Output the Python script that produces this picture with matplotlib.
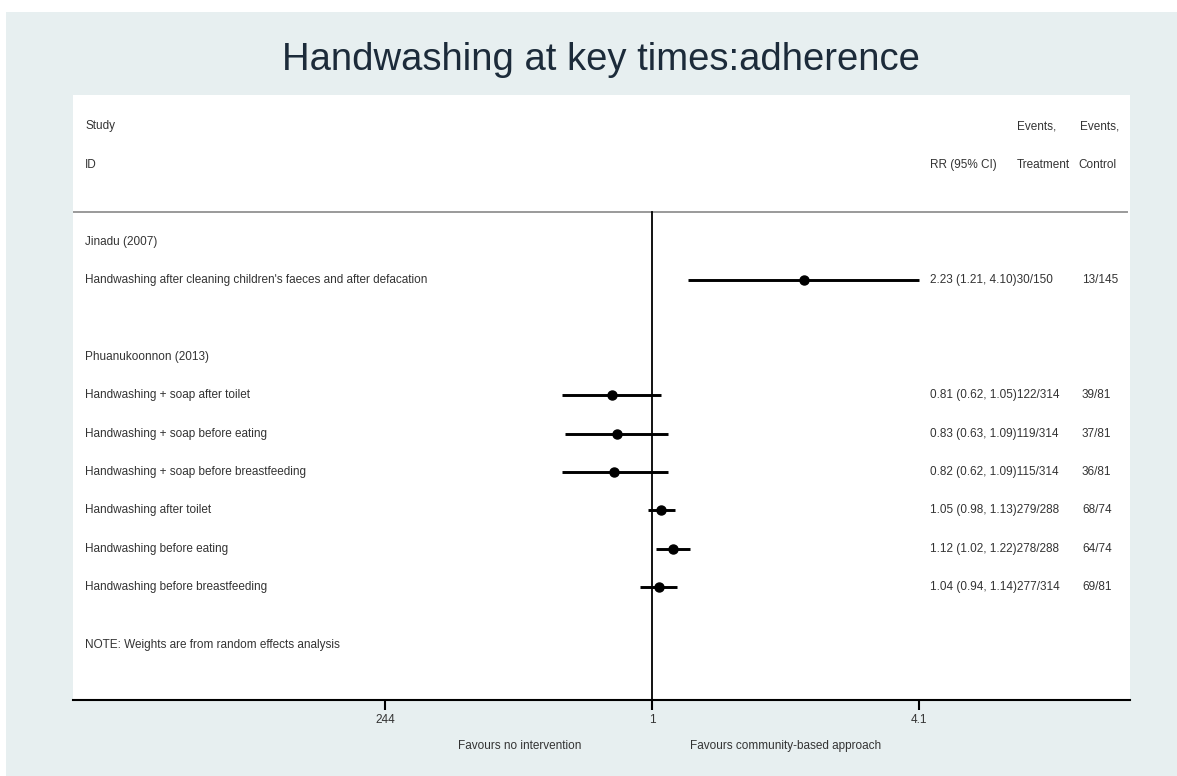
import matplotlib
matplotlib.use("Agg")
import matplotlib.pyplot as plt
from matplotlib.patches import Rectangle
from matplotlib.transforms import blended_transform_factory


# Data
study_labels = [
    "Handwashing after cleaning children's faeces and after defacation",
    "Handwashing + soap after toilet",
    "Handwashing + soap before eating",
    "Handwashing + soap before breastfeeding",
    "Handwashing after toilet",
    "Handwashing before eating",
    "Handwashing before breastfeeding",
]
study_rows = [1, 4, 5, 6, 7, 8, 9]
group_labels = ["Jinadu (2007)", "Phuanukoonnon (2013)"]
group_rows = [0, 3]
rr = [2.23, 0.81, 0.83, 0.82, 1.05, 1.12, 1.04]
ci_low = [1.21, 0.62, 0.63, 0.62, 0.98, 1.02, 0.94]
ci_high = [4.10, 1.05, 1.09, 1.09, 1.13, 1.22, 1.14]
events_treatment = ["30/150", "122/314", "119/314", "115/314", "279/288", "278/288", "277/314"]
events_control = ["13/145", "39/81", "37/81", "36/81", "68/74", "64/74", "69/81"]
tick_values = [0.244, 1, 4.1]
tick_labels = ["244", "1", "4.1"]

txt = "#333333"
fs = 8.5
font = ["Liberation Sans", "DejaVu Sans"]
plt.rcParams['font.family'] = font

fig = plt.figure(figsize=(11.77, 7.76), dpi=100)
fig.patch.set_facecolor("white")
# bluish background with a thin white border at top/left
bg = Rectangle((6 / 1177, 0), 1, 1 - 12 / 776, transform=fig.transFigure,
               facecolor="#e7eff0", edgecolor="none", zorder=-10)
fig.patches.append(bg)

ax = fig.add_axes([73 / 1177, 1 - 700 / 776, 1057 / 1177, 605 / 776])
ax.set_zorder(5)
ax.set_facecolor("white")
ax.set_xscale("log")
ax.set_xlim(0.0469, 12.5)
ax.set_ylim(11.94, -3.82)

for s in ["top", "left", "right"]:
    ax.spines[s].set_visible(False)
ax.spines["bottom"].set_linewidth(1.5)
ax.spines["bottom"].set_color("black")

ax.set_xticks(tick_values)
ax.set_xticklabels(tick_labels)
ax.xaxis.set_minor_locator(matplotlib.ticker.NullLocator())
ax.tick_params(axis="x", length=7, width=1.5, pad=3, labelsize=fs, labelcolor=txt)
ax.set_yticks([])

# header separator and null line
ax.axhline(-0.77, xmin=0, xmax=0.997, color="#9a9a9a", lw=1.4)
ax.plot([1, 1], [-0.77, 11.94], color="black", lw=1.3, clip_on=False)

# CI lines and points
for i in range(len(rr)):
    y = study_rows[i]
    ax.plot([ci_low[i], ci_high[i]], [y, y], color="black", lw=2.1, solid_capstyle="butt")
    ax.plot(rr[i], y, "o", color="black", ms=6.5)

tr = blended_transform_factory(ax.transAxes, ax.transData)
x_lab = 0.0114
x_es = 0.8108
x_treat = 0.893
x_ctrl = 0.9546

ax.text(x_lab, -3, "Study", transform=tr, va="center", fontsize=fs, color=txt)
ax.text(x_lab, -2, "ID", transform=tr, va="center", fontsize=fs, color=txt)
ax.text(x_es, -2, "RR (95% CI)", transform=tr, va="center", fontsize=fs, color=txt)
ax.text(x_treat, -3, "Events,", transform=tr, va="center", fontsize=fs, color=txt)
ax.text(x_treat, -2, "Treatment", transform=tr, va="center", fontsize=fs, color=txt)
ax.text(0.953, -3, "Events,", transform=tr, va="center", fontsize=fs, color=txt)
ax.text(0.951, -2, "Control", transform=tr, va="center", fontsize=fs, color=txt)

for g, r in zip(group_labels, group_rows):
    ax.text(x_lab, r, g, transform=tr, va="center", fontsize=fs, color=txt)

for i in range(len(rr)):
    y = study_rows[i]
    ax.text(x_lab, y, study_labels[i], transform=tr, va="center", fontsize=fs, color=txt)
    es = f"{rr[i]:.2f} ({ci_low[i]:.2f}, {ci_high[i]:.2f}){events_treatment[i]}"
    ax.text(x_es, y, es, transform=tr, va="center", fontsize=fs, color=txt)
    ax.text(x_ctrl, y, events_control[i], transform=tr, va="center", fontsize=fs, color=txt)

ax.text(x_lab, 10.5, "NOTE: Weights are from random effects analysis", transform=tr,
        va="center", fontsize=fs, color=txt)

ax.text(0.423, -0.076, "Favours no intervention", transform=ax.transAxes,
        ha="center", va="center", fontsize=fs, color=txt)
ax.text(0.674, -0.076, "Favours community-based approach", transform=ax.transAxes,
        ha="center", va="center", fontsize=fs, color=txt)

fig.text(601 / 1177, 1 - 60 / 776, "Handwashing at key times:adherence",
         ha="center", va="center", fontsize=27.5, color="#1c2b3a")

fig.savefig("out.png", dpi=100, facecolor=fig.get_facecolor())
